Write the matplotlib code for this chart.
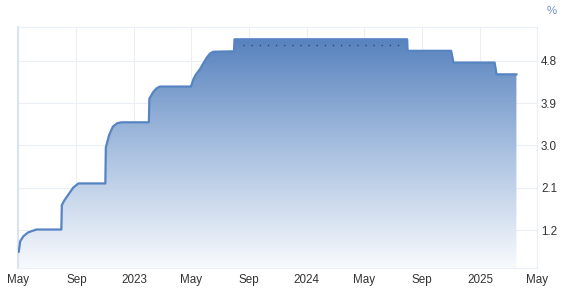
import numpy as np
import matplotlib.pyplot as plt
import matplotlib.dates as mdates
from matplotlib.colors import LinearSegmentedColormap

plt.rcParams['font.family'] = ['Liberation Sans', 'DejaVu Sans']

# rate readings (%)
dates = ['2022-05-02', '2022-05-05', '2022-05-12', '2022-05-22', '2022-06-08',
         '2022-07-31', '2022-08-01', '2022-08-07', '2022-08-14', '2022-08-25',
         '2022-09-05', '2022-11-01', '2022-11-02', '2022-11-09', '2022-11-17',
         '2022-11-26', '2022-12-05', '2023-02-01', '2023-02-02', '2023-02-10',
         '2023-02-17', '2023-02-24', '2023-05-01', '2023-05-06', '2023-05-11',
         '2023-05-20', '2023-06-03', '2023-06-10', '2023-06-17', '2023-07-31',
         '2023-08-01', '2024-07-31', '2024-08-01', '2024-11-01', '2024-11-06',
         '2025-02-01', '2025-02-05', '2025-03-19']
values = [0.74, 0.96, 1.07, 1.15, 1.21,
          1.21, 1.73, 1.84, 1.94, 2.10,
          2.19, 2.19, 2.95, 3.22, 3.40,
          3.47, 3.49, 3.49, 3.99, 4.13,
          4.21, 4.25, 4.25, 4.40, 4.50,
          4.62, 4.86, 4.95, 4.99, 5.00,
          5.255, 5.255, 5.01, 5.01, 4.76,
          4.76, 4.51, 4.51]

dotted_dates = ['2023-08-19', '2024-07-17']
dotted_value = 5.13

xtick_dates = ['2022-05-01', '2022-09-01', '2023-01-01', '2023-05-01', '2023-09-01',
               '2024-01-01', '2024-05-01', '2024-09-01', '2025-01-01', '2025-05-01']
xtick_labels = ['May', 'Sep', '2023', 'May', 'Sep', '2024', 'May', 'Sep', '2025', 'May']
yticks = [1.2, 2.1, 3.0, 3.9, 4.8]

x = mdates.date2num(np.array(dates, dtype='datetime64[D]'))
y = np.array(values)
xt = mdates.date2num(np.array(xtick_dates, dtype='datetime64[D]'))
xd = mdates.date2num(np.array(dotted_dates, dtype='datetime64[D]'))

y0, y1 = 0.386, 5.51
line_col = '#5684c2'
grid_col = '#ebeff5'
text_col = '#333333'

fig = plt.figure(figsize=(5.65, 2.92), dpi=100)
ax = fig.add_axes([0.0324, 0.0812, 0.9176, 0.8253])

# gradient fill under the line
cmap = LinearSegmentedColormap.from_list('fade', ['#f8fafd', '#a7bfdf', '#4f7cbb'])
grad = np.linspace(0, 1, 256).reshape(-1, 1)
img = ax.imshow(grad, cmap=cmap, origin='lower', aspect='auto',
                extent=[x[0], x[-1], y0, y1], zorder=1)
poly = ax.fill_between(x, y, y0, facecolor='none', edgecolor='none')
img.set_clip_path(poly.get_paths()[0], transform=ax.transData)

ax.plot(x, y, color=line_col, lw=1.6, solid_joinstyle='round', zorder=3)
ax.plot(xd, [dotted_value, dotted_value], color='#2f3f55', lw=0.9,
        linestyle=(0, (1, 5.5)), zorder=4)

ax.set_xlim(xt[0], xt[-1])
ax.set_ylim(y0, y1)

ax.set_xticks(xt)
ax.set_xticklabels(xtick_labels)
ax.set_yticks(yticks)
ax.set_yticklabels([f'{v:.1f}' for v in yticks])
ax.yaxis.tick_right()
ax.tick_params(axis='both', length=0, labelsize=8.4, colors=text_col)
ax.tick_params(axis='x', pad=4)
ax.tick_params(axis='y', pad=3)

ax.grid(True, color=grid_col, lw=0.8, zorder=0)
ax.set_axisbelow(True)
for side in ['top', 'right', 'bottom']:
    ax.spines[side].set_color(grid_col)
    ax.spines[side].set_linewidth(0.8)
ax.spines['left'].set_color('#dae3ef')
ax.spines['left'].set_linewidth(1.5)

fig.text(0.977, 0.962, '%', color='#6f8fc4', fontsize=8.2, ha='center', va='center')

fig.savefig('out.png', dpi=100)
